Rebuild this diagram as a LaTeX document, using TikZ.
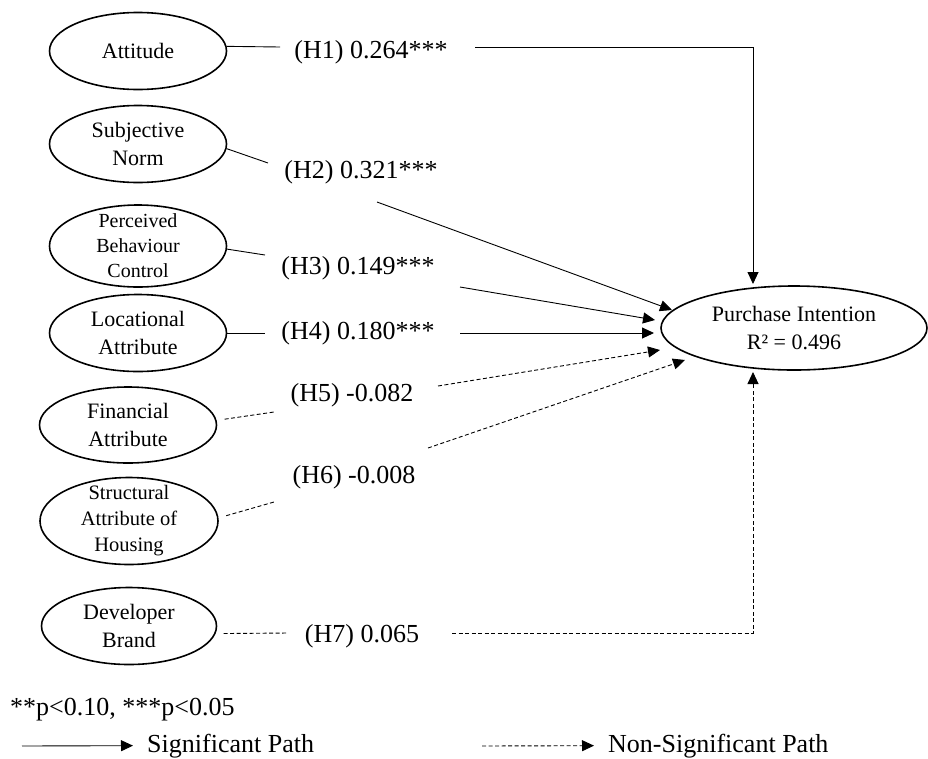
\documentclass[tikz,border=0pt]{standalone}
\usepackage{fontspec}
\setmainfont{Liberation Serif}
\usetikzlibrary{arrows.meta, shapes.geometric}

\begin{document}
\begin{tikzpicture}[x = 1pt, y = -1pt, > = {Triangle[length = 12pt, width = 11pt]},
	construct/.style = {draw, ellipse, line width = 1.6pt, inner sep = 0pt, align = center, font = \fontsize{22}{28}\selectfont},
	hyp/.style = {anchor = base, inner sep = 0pt, font = \fontsize{26}{30}\selectfont},
	key/.style = {anchor = base west, inner xsep = 14pt, inner ysep = 0pt, font = \fontsize{26}{30}\selectfont},
	sigline/.style = {line width = 0.9pt},
	nsline/.style = {line width = 0.9pt, dash pattern = on 4pt off 2.5pt}]

	% Definition

	\def\W{177pt}		% Width of the construct ellipses

	\useasboundingbox (0, 0) rectangle (928, 758);

	% Constructs on the left, intention on the right

	\node [construct, minimum width = \W, minimum height = 77pt] (att) at (138, 51) {Attitude};
	\node [construct, minimum width = \W, minimum height = 77pt] (sn) at (138, 144) {Subjective\\Norm};
	\node [construct, minimum width = \W, minimum height = 82pt, inner ysep = -10pt, font = \fontsize{20}{25}\selectfont] (pbc) at (138, 246) {Perceived\\Behaviour\\Control};
	\node [construct, minimum width = \W, minimum height = 77pt] (loc) at (138, 333) {Locational\\Attribute};
	\node [construct, minimum width = \W, minimum height = 76pt] (fin) at (128, 425) {Financial\\Attribute};
	\node [construct, minimum width = 178pt, minimum height = 87pt, inner ysep = -10pt, font = \fontsize{20.5}{26}\selectfont] (sah) at (129, 521) {Structural\\Attribute of\\Housing};
	\node [construct, minimum width = 175pt, minimum height = 77pt] (dev) at (129, 626) {Developer\\Brand};

	\node [construct, minimum width = 266pt, minimum height = 84pt] (pi) at (794, 328) {Purchase Intention\\R² = 0.496};

	% Path coefficients

	\node [hyp] (h1) at (371, 58) {(H1) 0.264***};
	\node [hyp] (h2) at (361, 178) {(H2) 0.321***};
	\node [hyp] (h3) at (358, 274) {(H3) 0.149***};
	\node [hyp] (h4) at (358, 339) {(H4) 0.180***};
	\node [hyp] (h5) at (352, 401) {(H5) -0.082};
	\node [hyp] (h6) at (354, 483) {(H6) -0.008};
	\node [hyp] (h7) at (362, 642) {(H7) 0.065};

	% Ends of the path pieces beside the coefficients

	\coordinate (h1a) at (280, 47);
	\coordinate (h1b) at (475, 47);
	\coordinate (h2a) at (268, 163);
	\coordinate (h2b) at (377, 202);
	\coordinate (h3a) at (265, 255);
	\coordinate (h3b) at (460, 287);
	\coordinate (h4a) at (265, 333);
	\coordinate (h4b) at (460, 333);
	\coordinate (h5a) at (274, 412);
	\coordinate (h5b) at (438, 386);
	\coordinate (h6a) at (274, 502);
	\coordinate (h6b) at (428, 448);
	\coordinate (h7a) at (288, 633);
	\coordinate (h7b) at (452, 633);

	% Arrow tips round purchase intention

	\coordinate (t1) at (753, 284);
	\coordinate (t2) at (672, 310);
	\coordinate (t3) at (655, 320);
	\coordinate (t4) at (654, 333);
	\coordinate (t5) at (660, 350);
	\coordinate (t6) at (685, 360);
	\coordinate (t7) at (753, 372);

	% Significant paths

	\begin{scope}[sigline]

		\draw (att.3) -- (h1a);
		\draw [->] (h1b) -| (t1);
		\draw (sn.-3) -- (h2a);
		\draw [->] (h2b) -- (t2);
		\draw (pbc.-2) -- (h3a);
		\draw [->] (h3b) -- (t3);
		\draw (loc) -- (h4a);
		\draw [->] (h4b) -- (t4);

	\end{scope}

	% Non-significant paths

	\begin{scope}[nsline]

		\draw [shorten < = 8pt] (fin.3) -- (h5a);
		\draw [->] (h5b) -- (t5);
		\draw [shorten < = 8pt] (sah.2) -- (h6a);
		\draw [->] (h6b) -- (t6);
		\draw [shorten < = 8pt] (dev.-5) -- (h7a);
		\draw [->] (h7b) -| (t7);

	\end{scope}

	% Legend

	\node [hyp, anchor = base west] (note) at (10, 715) {**p<0.10, ***p<0.05};

	\node [key] (sig) at (133, 752) {Significant Path};
	\node [key] (nsig) at (594, 752) {Non-Significant Path};

	\coordinate (k1) at (22, 746);
	\coordinate (k2) at (482, 746);

	\draw [sigline, ->] (k1) -- (sig.west);
	\draw [nsline, ->] (k2) -- (nsig.west);

\end{tikzpicture}
\end{document}
